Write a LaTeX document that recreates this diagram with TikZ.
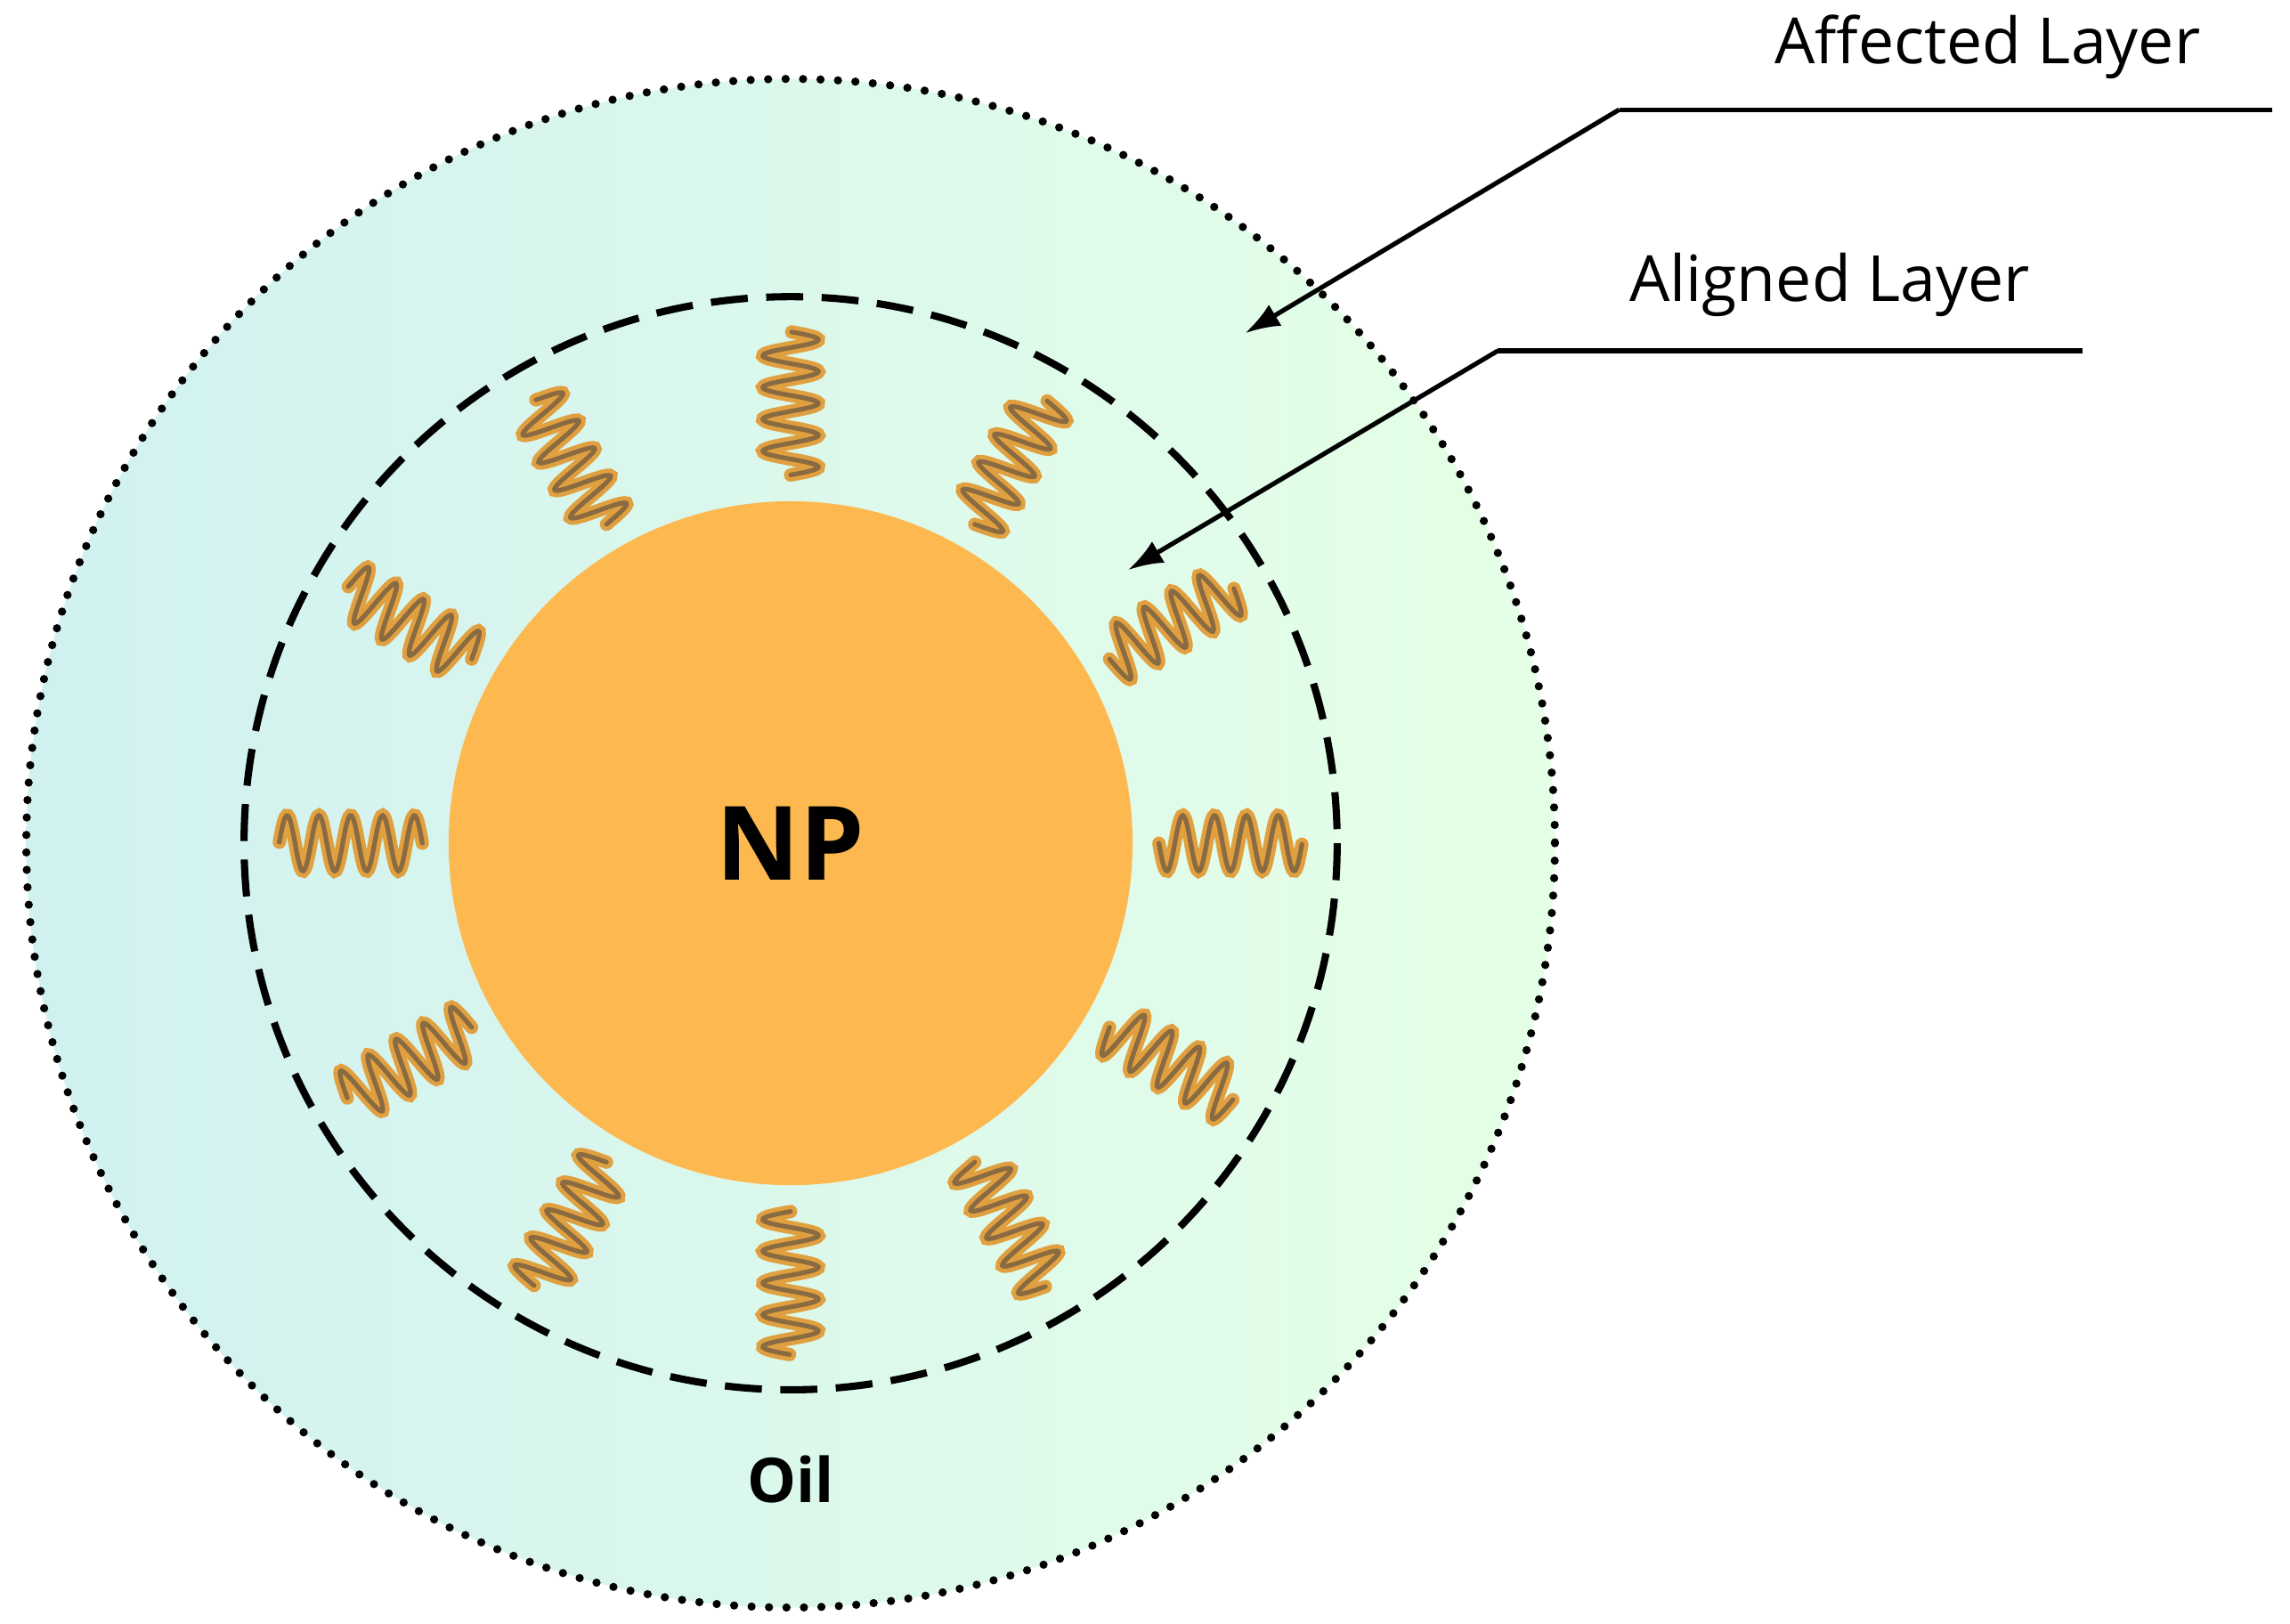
\documentclass[tikz,border=0pt]{standalone}
\usepackage{fontspec}
\setmainfont{Open Sans}
\usetikzlibrary{arrows.meta}
\definecolor{npc}{HTML}{FDB94F}
\definecolor{sqo}{HTML}{E0A040}
\definecolor{sqb}{HTML}{8A6A40}
\begin{document}
\begin{tikzpicture}[x=0.05cm,y=-0.05cm,
  lab/.style={font=\fontsize{62}{66}\selectfont, inner sep=0pt},
  arr/.style={line width=4.5pt,-{Latex[length=34pt,width=24pt]}},
  ln/.style={line width=4.5pt}]
\useasboundingbox (0,0) rectangle (1567,1111);
\coordinate (c) at (541,577);
\shade[left color=cyan!40!teal!18!white, right color=green!10!white] (c) circle (523);
\draw[line width=8pt, dash pattern=on 0pt off 17pt, line cap=round] (c) circle (523);
\draw[line width=7pt, dash pattern=on 36pt off 18pt] (c) circle (374);
\fill[npc] (c) circle (234);
\node[font=\fontsize{100}{104}\selectfont\bfseries] (np) at (541,577) {NP};
\node[font=\fontsize{60}{64}\selectfont\bfseries] (oil) at (541,1012) {Oil};
\foreach \a in {0,30,...,330}{
  \begin{scope}[shift={(c)},rotate=\a]
  \draw[sqo, line width=13pt, line cap=round] plot[domain=0:1,samples=120,smooth] ({252+98*\x},{19*sin(\x*4.5*360)});
  \draw[sqb, line width=4.5pt, line cap=round] plot[domain=0:1,samples=120,smooth] ({252+98*\x},{19*sin(\x*4.5*360)});
  \end{scope}
}
\node[lab] (aff) at (1360,32) {Affected Layer};
\node[lab] (ali) at (1252,195) {Aligned Layer};
\coordinate (a1) at (1108,75); \coordinate (a2) at (1555,75); \coordinate (a3) at (852,228);
\coordinate (b1) at (1025,240); \coordinate (b2) at (1425,240); \coordinate (b3) at (772,390);
\draw[ln] (a2) -- (a1);
\draw[arr] (a1) -- (a3);
\draw[ln] (b2) -- (b1);
\draw[arr] (b1) -- (b3);
\end{tikzpicture}
\end{document}
